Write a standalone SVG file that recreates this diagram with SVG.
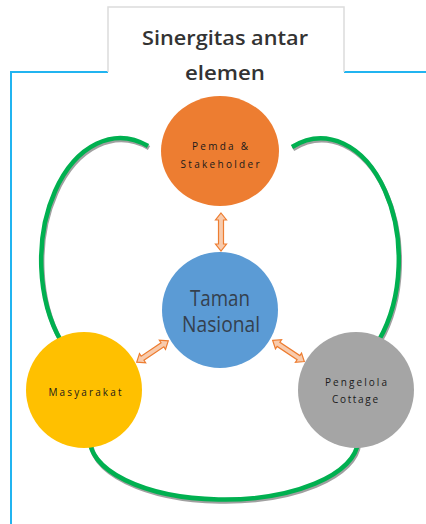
<svg xmlns="http://www.w3.org/2000/svg" width="426" height="524" viewBox="0 0 426 524">
  <style>
    .lbl { font-family: "Open Sans", "Liberation Sans", sans-serif; fill: #1a1a1a; text-anchor: middle; }
    .small { font-size: 10px; }
    .big { font-size: 21px; fill: #34404e; }
    .title { font-family: "Open Sans", "Liberation Sans", sans-serif; font-size: 19px; fill: #333333; text-anchor: middle; font-weight: 600; }
    .conn { fill: none; stroke: #00B050; stroke-width: 4.5; }
    .shadow { fill: none; stroke: #a0a0a0; stroke-width: 4.5; }
    .arr { fill: #F8CBAD; stroke: #ED7D31; stroke-width: 1.2; }
  </style>
  <defs>
    <polygon id="dblarrow" points="-19,0 -12,-5.5 -12,-2.5 12,-2.5 12,-5.5 19,0 12,5.5 12,2.5 -12,2.5 -12,5.5"/>
  </defs>
  <rect width="426" height="524" fill="#ffffff"/>

  <g id="frame">
    <polyline points="11,524 11,72 108,72" fill="none" stroke="#21B4F0" stroke-width="2"/>
    <line x1="344" y1="72" x2="426" y2="72" stroke="#21B4F0" stroke-width="2"/>
  </g>

  <g id="title">
    <polyline points="108,72 108,7 344,7 344,72" fill="#ffffff" stroke="#dcdcdc" stroke-width="1.5"/>
    <text class="title" x="225" y="45" textLength="166" lengthAdjust="spacingAndGlyphs">Sinergitas antar</text>
    <text class="title" x="225" y="80" textLength="80" lengthAdjust="spacingAndGlyphs">elemen</text>
  </g>

  <g id="connectors">
    <g transform="translate(1,2)">
      <path class="shadow" d="M148,146 A79 122 0 0 0 61,341"/>
      <path class="shadow" d="M292,147 A78 121 0 0 1 379,340"/>
      <path class="shadow" d="M90,437 A134 60 0 0 0 358,442"/>
    </g>
    <path class="conn" d="M148,146 A79 122 0 0 0 61,341"/>
    <path class="conn" d="M292,147 A78 121 0 0 1 379,340"/>
    <path class="conn" d="M90,437 A134 60 0 0 0 358,442"/>
    <use href="#dblarrow" class="arr" transform="translate(221,232) rotate(90)"/>
    <use href="#dblarrow" class="arr" transform="translate(152.5,351.5) rotate(-34)"/>
    <use href="#dblarrow" class="arr" transform="translate(288.5,351) rotate(33.7)"/>
  </g>

  <g id="pemda">
    <ellipse cx="220" cy="151" rx="59" ry="55" fill="#ED7D31"/>
    <text class="lbl small" x="220" y="150" textLength="56" lengthAdjust="spacing">Pemda &amp;</text>
    <text class="lbl small" x="220" y="168" textLength="79" lengthAdjust="spacing">Stakeholder</text>
  </g>

  <g id="taman">
    <circle cx="220" cy="310" r="58" fill="#5B9BD5"/>
    <text class="lbl big" x="220" y="306" textLength="60" lengthAdjust="spacingAndGlyphs">Taman</text>
    <text class="lbl big" x="221" y="332" textLength="78" lengthAdjust="spacingAndGlyphs">Nasional</text>
  </g>

  <g id="masyarakat">
    <circle cx="84" cy="390" r="58" fill="#FFC000"/>
    <text class="lbl small" x="85" y="396" textLength="73" lengthAdjust="spacing">Masyarakat</text>
  </g>

  <g id="pengelola">
    <circle cx="356" cy="390" r="58" fill="#A5A5A5"/>
    <text class="lbl small" x="356" y="386" textLength="62" lengthAdjust="spacing">Pengelola</text>
    <text class="lbl small" x="355" y="403" textLength="46" lengthAdjust="spacing">Cottage</text>
  </g>
</svg>
